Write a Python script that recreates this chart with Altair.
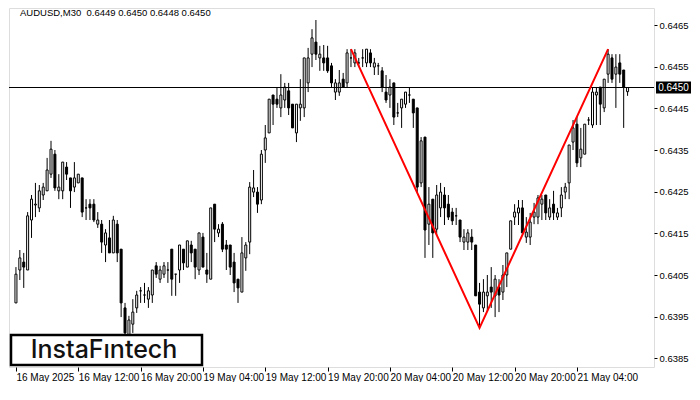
import altair as alt
import pandas as pd

symbol_text = "AUDUSD,M30\u00a0 0.6449 0.6450 0.6448 0.6450"
logo_text = "InstaFıntech"

open_ = [
    0.63983, 0.64062, 0.64081, 0.64062, 0.64182, 0.64218, 0.64211, 0.64242, 0.64252, 0.64292,
    0.64340, 0.64252, 0.64252, 0.64309, 0.64283, 0.64261, 0.64271, 0.64283, 0.64211, 0.64220,
    0.64220, 0.64172, 0.64172, 0.64122, 0.64139, 0.64103, 0.64172, 0.64112, 0.63971, 0.63901,
    0.63932, 0.63971, 0.64012, 0.64002, 0.63992, 0.64002, 0.64072, 0.64040, 0.64052, 0.64062,
    0.64112, 0.64052, 0.64062, 0.64112, 0.64069, 0.64122, 0.64112, 0.64062, 0.64141, 0.64062,
    0.64040, 0.64220, 0.64151, 0.64172, 0.64122, 0.64122, 0.64081, 0.64040, 0.64009, 0.64091,
    0.64129, 0.64249, 0.64249, 0.64230, 0.64350, 0.64391, 0.64482, 0.64472, 0.64451, 0.64470,
    0.64492, 0.64460, 0.64391, 0.64451, 0.64451, 0.64511, 0.64580, 0.64609, 0.64571, 0.64571,
    0.64571, 0.64552, 0.64489, 0.64489, 0.64520, 0.64511, 0.64571, 0.64559, 0.64559, 0.64571,
    0.64559, 0.64583, 0.64549, 0.64552, 0.64540, 0.64489, 0.64482, 0.64511, 0.64439, 0.64451,
    0.64460, 0.64482, 0.64472, 0.64451, 0.64271, 0.64381, 0.64172, 0.64232, 0.64160, 0.64211,
    0.64242, 0.64220, 0.64201, 0.64192, 0.64182, 0.64129, 0.64129, 0.64141, 0.64122, 0.64009,
    0.63971, 0.64000, 0.64021, 0.64000, 0.64021, 0.64009, 0.64050, 0.64112, 0.64189, 0.64199,
    0.64211, 0.64141, 0.64141, 0.64189, 0.64189, 0.64220, 0.64242, 0.64189, 0.64220, 0.64189,
    0.64211, 0.64249, 0.64271, 0.64369, 0.64412, 0.64331, 0.64340, 0.64422, 0.64410, 0.64482,
    0.64501, 0.64451, 0.64532, 0.64571, 0.64532, 0.64559, 0.64542, 0.64490,
]
high = [
    0.64069, 0.64110, 0.64103, 0.64201, 0.64242, 0.64271, 0.64266, 0.64271, 0.64331, 0.64372,
    0.64350, 0.64292, 0.64321, 0.64321, 0.64283, 0.64321, 0.64292, 0.64283, 0.64232, 0.64232,
    0.64232, 0.64201, 0.64182, 0.64160, 0.64182, 0.64192, 0.64182, 0.64112, 0.63983, 0.63952,
    0.63992, 0.64012, 0.64021, 0.64031, 0.64021, 0.64062, 0.64081, 0.64072, 0.64081, 0.64081,
    0.64112, 0.64052, 0.64122, 0.64112, 0.64132, 0.64132, 0.64112, 0.64151, 0.64151, 0.64103,
    0.64211, 0.64220, 0.64172, 0.64177, 0.64134, 0.64122, 0.64103, 0.64040, 0.64141, 0.64129,
    0.64273, 0.64302, 0.64261, 0.64350, 0.64410, 0.64472, 0.64482, 0.64501, 0.64532, 0.64511,
    0.64511, 0.64460, 0.64460, 0.64520, 0.64571, 0.64595, 0.64640, 0.64662, 0.64600, 0.64602,
    0.64600, 0.64559, 0.64520, 0.64542, 0.64535, 0.64592, 0.64592, 0.64592, 0.64571, 0.64592,
    0.64592, 0.64592, 0.64571, 0.64559, 0.64549, 0.64530, 0.64520, 0.64511, 0.64463, 0.64472,
    0.64489, 0.64501, 0.64472, 0.64451, 0.64381, 0.64381, 0.64261, 0.64232, 0.64266, 0.64271,
    0.64261, 0.64242, 0.64211, 0.64211, 0.64182, 0.64160, 0.64160, 0.64160, 0.64122, 0.64031,
    0.64040, 0.64050, 0.64069, 0.64050, 0.64040, 0.64074, 0.64103, 0.64180, 0.64220, 0.64230,
    0.64230, 0.64189, 0.64199, 0.64223, 0.64242, 0.64242, 0.64242, 0.64232, 0.64252, 0.64211,
    0.64261, 0.64271, 0.64362, 0.64422, 0.64429, 0.64403, 0.64412, 0.64429, 0.64501, 0.64501,
    0.64501, 0.64520, 0.64592, 0.64580, 0.64580, 0.64580, 0.64542, 0.64500,
]
low = [
    0.63983, 0.64038, 0.64019, 0.64062, 0.64139, 0.64189, 0.64201, 0.64230, 0.64252, 0.64283,
    0.64252, 0.64232, 0.64232, 0.64278, 0.64211, 0.64249, 0.64271, 0.64189, 0.64182, 0.64182,
    0.64177, 0.64163, 0.64103, 0.64081, 0.64103, 0.64103, 0.64081, 0.63949, 0.63896, 0.63896,
    0.63911, 0.63959, 0.63983, 0.63983, 0.63971, 0.63983, 0.64043, 0.64031, 0.64043, 0.64031,
    0.64000, 0.64000, 0.64031, 0.64062, 0.64069, 0.64081, 0.64040, 0.64050, 0.64069, 0.64031,
    0.64040, 0.64129, 0.64141, 0.64105, 0.64062, 0.64050, 0.64009, 0.63983, 0.64009, 0.64060,
    0.64100, 0.64237, 0.64199, 0.64220, 0.64319, 0.64391, 0.64410, 0.64451, 0.64429, 0.64451,
    0.64434, 0.64403, 0.64369, 0.64420, 0.64429, 0.64489, 0.64549, 0.64566, 0.64540, 0.64540,
    0.64535, 0.64501, 0.64470, 0.64480, 0.64501, 0.64501, 0.64549, 0.64549, 0.64549, 0.64549,
    0.64549, 0.64549, 0.64530, 0.64530, 0.64489, 0.64463, 0.64451, 0.64410, 0.64429, 0.64403,
    0.64451, 0.64463, 0.64403, 0.64249, 0.64261, 0.64091, 0.64122, 0.64091, 0.64146, 0.64189,
    0.64170, 0.64182, 0.64170, 0.64170, 0.64129, 0.64110, 0.64110, 0.64110, 0.64000, 0.63923,
    0.63961, 0.63961, 0.63971, 0.63949, 0.63961, 0.63990, 0.64021, 0.64112, 0.64170, 0.64170,
    0.64151, 0.64127, 0.64122, 0.64172, 0.64172, 0.64182, 0.64182, 0.64182, 0.64182, 0.64182,
    0.64189, 0.64232, 0.64232, 0.64350, 0.64309, 0.64309, 0.64340, 0.64410, 0.64403, 0.64410,
    0.64410, 0.64441, 0.64511, 0.64511, 0.64451, 0.64511, 0.64403, 0.64480,
]
close = [
    0.64052, 0.64091, 0.64069, 0.64192, 0.64232, 0.64220, 0.64252, 0.64261, 0.64302, 0.64352,
    0.64259, 0.64261, 0.64321, 0.64292, 0.64252, 0.64283, 0.64292, 0.64201, 0.64211, 0.64211,
    0.64182, 0.64182, 0.64129, 0.64151, 0.64103, 0.64182, 0.64103, 0.63983, 0.63911, 0.63942,
    0.63961, 0.64002, 0.64012, 0.64002, 0.64012, 0.64062, 0.64052, 0.64062, 0.64072, 0.64062,
    0.64040, 0.64052, 0.64122, 0.64079, 0.64132, 0.64103, 0.64069, 0.64151, 0.64069, 0.64052,
    0.64211, 0.64160, 0.64160, 0.64112, 0.64112, 0.64069, 0.64031, 0.64019, 0.64103, 0.64122,
    0.64261, 0.64259, 0.64220, 0.64340, 0.64379, 0.64472, 0.64460, 0.64460, 0.64482, 0.64501,
    0.64451, 0.64403, 0.64460, 0.64460, 0.64571, 0.64571, 0.64619, 0.64580, 0.64580, 0.64559,
    0.64540, 0.64511, 0.64511, 0.64511, 0.64501, 0.64583, 0.64571, 0.64583, 0.64559, 0.64571,
    0.64592, 0.64559, 0.64559, 0.64552, 0.64501, 0.64470, 0.64501, 0.64429, 0.64439, 0.64472,
    0.64489, 0.64482, 0.64439, 0.64261, 0.64372, 0.64158, 0.64220, 0.64151, 0.64242, 0.64249,
    0.64211, 0.64189, 0.64180, 0.64192, 0.64141, 0.64141, 0.64151, 0.64129, 0.64000, 0.63980,
    0.64009, 0.64009, 0.64009, 0.64040, 0.64002, 0.64050, 0.64103, 0.64180, 0.64201, 0.64211,
    0.64151, 0.64153, 0.64177, 0.64201, 0.64235, 0.64232, 0.64199, 0.64211, 0.64199, 0.64199,
    0.64242, 0.64261, 0.64362, 0.64403, 0.64319, 0.64352, 0.64412, 0.64422, 0.64489, 0.64489,
    0.64460, 0.64520, 0.64580, 0.64520, 0.64549, 0.64532, 0.64501, 0.64500,
]

tick_index = [0, 16, 32, 48, 64, 80, 96, 112, 128, 144]
tick_labels = ["16 May 2025", "16 May 12:00", "16 May 20:00", "19 May 04:00",
               "19 May 12:00", "19 May 20:00", "20 May 04:00", "20 May 12:00",
               "20 May 20:00", "21 May 04:00"]
price_ticks = [0.6385, 0.6395, 0.6405, 0.6415, 0.6425, 0.6435, 0.6445, 0.6455, 0.6465]
current_price = [0.6450]
current_label = ["0.6450"]
pattern_index = [86, 119, 152]
pattern_price = [0.64592, 0.63923, 0.64592]

df = pd.DataFrame({"i": list(range(len(open_))), "open": open_, "high": high,
                   "low": low, "close": close})
df["dir"] = ["up" if c >= o else "down" for o, c in zip(open_, close)]

W, H = 645, 359
FONT = "Liberation Sans"
xs = alt.Scale(domain=[-0.5, 162.5], nice=False, zero=False)
ys = alt.Scale(domain=[0.638292, 0.646908], nice=False, zero=False)

label_expr = " : ".join(f"datum.value == {v} ? '{l}'" for v, l in zip(tick_index, tick_labels)) + " : ''"

x_axis = alt.Axis(values=tick_index, labelExpr=label_expr, grid=False, domain=False,
                  tickSize=4, tickColor="black", labelAlign="left", labelBaseline="top",
                  labelPadding=1, labelFont=FONT, labelFontSize=10, labelColor="black",
                  labelOverlap=False, labelFlush=False, title=None)
y_axis = alt.Axis(orient="right", values=price_ticks, format=".4f", grid=False, domain=False,
                  tickSize=3, tickColor="black", labelAlign="left", labelBaseline="middle",
                  labelPadding=2, labelFont=FONT, labelFontSize=9.5, labelColor="black",
                  labelOverlap=False, labelFlush=False, title=None)

base = alt.Chart(df).encode(x=alt.X("i:Q", scale=xs, axis=x_axis))

wicks = base.mark_rule(color="black", strokeWidth=1).encode(
    y=alt.Y("low:Q", scale=ys, axis=y_axis), y2="high:Q")

bodies = base.mark_bar(size=2, stroke="black", strokeWidth=1).encode(
    y=alt.Y("open:Q", scale=ys), y2="close:Q",
    fill=alt.Fill("dir:N", scale=alt.Scale(domain=["up", "down"], range=["white", "black"]),
                  legend=None))

cur_df = pd.DataFrame({"p": current_price, "t": current_label})
hline = alt.Chart(cur_df).mark_rule(color="black", strokeWidth=1).encode(
    y=alt.Y("p:Q", scale=ys), x=alt.value(0), x2=alt.value(W))

box = alt.Chart(cur_df).mark_point(
    shape="M-1,-0.34L1,-0.34L1,0.34L-1,0.34Z", size=1225, filled=True,
    fill="black", stroke="black", strokeWidth=0, opacity=1).encode(
    y=alt.Y("p:Q", scale=ys), x=alt.value(W + 19.5))
box_text = alt.Chart(cur_df).mark_text(
    color="white", font=FONT, fontSize=10, align="center", baseline="middle").encode(
    y=alt.Y("p:Q", scale=ys), x=alt.value(W + 19.5), text="t:N")

pattern = alt.Chart(pd.DataFrame({"i": pattern_index, "p": pattern_price})).mark_line(
    color="#ff0000", strokeWidth=2).encode(
    x=alt.X("i:Q", scale=xs), y=alt.Y("p:Q", scale=ys))

title_txt = alt.Chart(pd.DataFrame({"t": [symbol_text]})).mark_text(
    align="left", baseline="top", font=FONT, fontSize=9.5, color="black").encode(
    x=alt.value(11), y=alt.value(0), text="t:N")

logo_df = pd.DataFrame({"t": [logo_text]})
logo_box = alt.Chart(logo_df).mark_rect(
    fill="white", stroke="black", strokeWidth=2.5).encode(
    x=alt.value(2), x2=alt.value(193), y=alt.value(327), y2=alt.value(357))
logo_txt = alt.Chart(logo_df).mark_text(
    font="Inter", fontSize=25, fontWeight=500, color="#111111", align="center",
    baseline="middle").encode(x=alt.value(95), y=alt.value(342), text="t:N")

chart = alt.layer(wicks, bodies, hline, pattern, logo_box, logo_txt, title_txt, box, box_text
                  ).properties(width=W, height=H, padding=0
                  ).configure_view(stroke="black", strokeWidth=1
                  ).configure(background="white")

chart.save("out.html", embed_options={"renderer": "svg", "actions": False})
